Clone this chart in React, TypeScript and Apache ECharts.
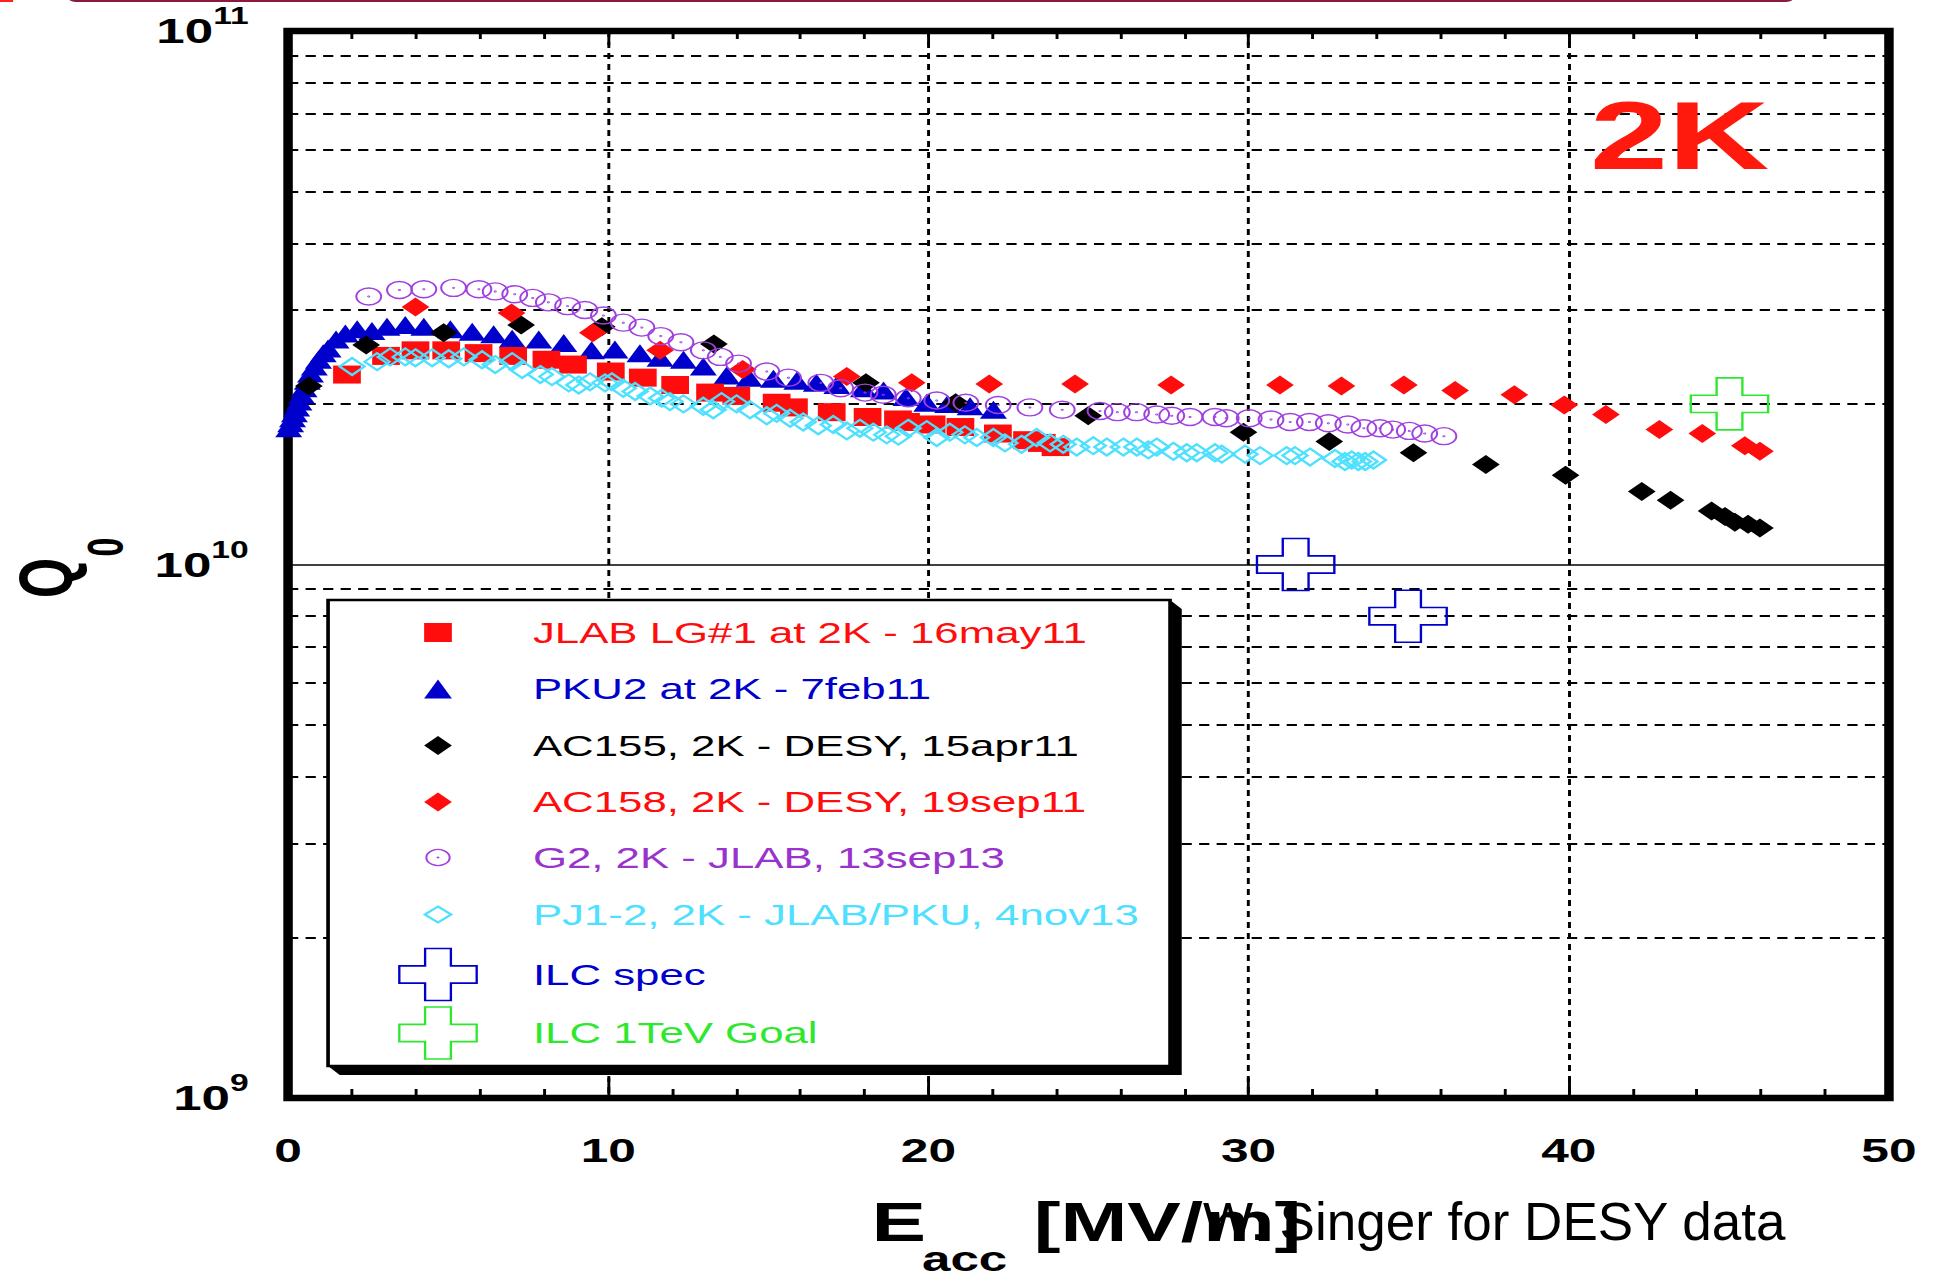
import React, { useEffect, useRef } from "react";
import * as echarts from "echarts";

// The reference picture is stretched horizontally; the chart is drawn narrower and stretched back.
const STRETCH = 1.46;
const CHART_W = 1329;
const CHART_H = 1279;
const FONT = '"Liberation Sans", Arial, Helvetica, sans-serif';

const X_MIN = 0;
const X_MAX = 50;
const X_STEP = 10;
const Q_MIN = 1e9;
const Q_MAX = 1e11;
const Q_MINOR_GRID = [2e9, 3e9, 4e9, 5e9, 6e9, 7e9, 8e9, 9e9, 2e10, 3e10, 4e10, 5e10, 6e10, 7e10, 8e10, 9e10];

const NAME_JLAB = "JLAB LG#1 at 2K - 16may11";
const NAME_PKU2 = "PKU2 at 2K - 7feb11";
const NAME_AC155 = "AC155, 2K - DESY, 15apr11";
const NAME_AC158 = "AC158, 2K - DESY, 19sep11";
const NAME_G2 = "G2, 2K - JLAB, 13sep13";
const NAME_PJ12 = "PJ1-2, 2K - JLAB/PKU, 4nov13";
const NAME_ILC = "ILC spec";
const NAME_ILC1T = "ILC 1TeV Goal";

// [Eacc (MV/m), Q0]
const jlab: number[][] = [
  [1.84, 2.27e10], [3.06, 2.46e10], [3.98, 2.52e10], [4.94, 2.52e10], [5.95, 2.49e10], [7.03, 2.46e10],
  [8.07, 2.42e10], [8.9, 2.37e10], [10.08, 2.3e10], [11.08, 2.24e10], [12.09, 2.17e10], [13.18, 2.1e10],
  [14.0, 2.07e10], [15.26, 2.01e10], [15.8, 1.97e10], [16.98, 1.93e10], [18.1, 1.89e10], [19.05, 1.87e10],
  [19.3, 1.85e10], [20.1, 1.83e10], [21.0, 1.81e10], [22.17, 1.76e10], [23.08, 1.71e10], [23.54, 1.69e10],
  [23.97, 1.66e10],
];

const pku2: number[][] = [
  [0.02, 1.8e10], [0.08, 1.84e10], [0.14, 1.88e10], [0.2, 1.92e10], [0.27, 1.97e10], [0.34, 2.02e10],
  [0.42, 2.08e10], [0.5, 2.14e10], [0.6, 2.21e10], [0.7, 2.28e10], [0.82, 2.35e10], [0.95, 2.42e10],
  [1.1, 2.49e10], [1.25, 2.54e10], [1.5, 2.64e10], [1.79, 2.71e10], [2.16, 2.76e10], [2.62, 2.74e10],
  [3.09, 2.79e10], [3.66, 2.81e10], [4.24, 2.79e10], [5.07, 2.76e10], [5.75, 2.73e10], [6.42, 2.7e10],
  [7.0, 2.65e10], [7.83, 2.64e10], [8.61, 2.6e10], [9.48, 2.52e10], [10.21, 2.53e10], [10.99, 2.49e10],
  [11.62, 2.44e10], [12.35, 2.42e10], [12.97, 2.35e10], [13.7, 2.26e10], [14.4, 2.24e10], [15.16, 2.23e10],
  [15.89, 2.21e10], [16.5, 2.19e10], [17.14, 2.17e10], [17.97, 2.14e10], [18.6, 2.12e10], [19.3, 2.06e10],
  [19.95, 2.01e10], [20.6, 2.0e10], [21.3, 1.98e10], [22.03, 1.95e10],
];

const ac155: number[][] = [
  [0.65, 2.16e10], [2.44, 2.58e10], [4.86, 2.72e10], [7.28, 2.81e10], [9.8, 2.79e10], [13.3, 2.59e10],
  [18.05, 2.19e10], [20.85, 2.01e10], [24.99, 1.9e10], [29.84, 1.77e10], [32.52, 1.7e10], [35.15, 1.62e10],
  [37.41, 1.54e10], [39.9, 1.47e10], [42.28, 1.37e10], [43.18, 1.32e10], [44.46, 1.26e10], [44.88, 1.23e10],
  [45.19, 1.2e10], [45.6, 1.19e10], [45.97, 1.17e10],
];

const ac158: number[][] = [
  [3.98, 3.04e10], [6.98, 2.96e10], [9.52, 2.72e10], [11.62, 2.52e10], [14.2, 2.32e10], [17.45, 2.25e10],
  [19.48, 2.19e10], [21.9, 2.18e10], [24.58, 2.18e10], [27.58, 2.17e10], [30.98, 2.17e10], [32.9, 2.16e10],
  [34.85, 2.17e10], [36.45, 2.12e10], [38.3, 2.08e10], [39.86, 1.99e10], [41.16, 1.91e10], [42.83, 1.79e10],
  [44.17, 1.76e10], [45.5, 1.67e10], [45.97, 1.63e10],
];

const g2: number[][] = [
  [2.52, 3.18e10], [3.48, 3.27e10], [4.24, 3.28e10], [5.17, 3.3e10], [5.96, 3.28e10], [6.47, 3.25e10],
  [7.08, 3.21e10], [7.64, 3.16e10], [8.13, 3.1e10], [8.73, 3.05e10], [9.27, 3.0e10], [9.85, 2.93e10],
  [10.47, 2.84e10], [11.05, 2.78e10], [11.64, 2.68e10], [12.27, 2.61e10], [12.97, 2.52e10], [13.5, 2.45e10],
  [14.07, 2.38e10], [14.95, 2.3e10], [15.63, 2.24e10], [16.64, 2.19e10], [17.26, 2.14e10], [18.02, 2.1e10],
  [18.59, 2.08e10], [19.37, 2.05e10], [20.26, 2.03e10], [21.17, 2.01e10], [22.18, 1.99e10], [23.17, 1.97e10],
  [24.18, 1.95e10], [25.36, 1.94e10], [25.9, 1.93e10], [26.5, 1.93e10], [27.13, 1.91e10], [27.6, 1.9e10],
  [28.17, 1.89e10], [28.95, 1.89e10], [29.3, 1.88e10], [30.02, 1.88e10], [30.7, 1.87e10], [31.3, 1.85e10],
  [31.9, 1.85e10], [32.49, 1.84e10], [33.1, 1.83e10], [33.6, 1.8e10], [34.1, 1.8e10], [34.5, 1.79e10],
  [35.02, 1.78e10], [35.5, 1.76e10], [36.1, 1.74e10],
];

const pj12: number[][] = [
  [2.0, 2.35e10], [2.78, 2.4e10], [3.19, 2.45e10], [3.66, 2.45e10], [3.98, 2.44e10], [4.5, 2.44e10],
  [5.02, 2.43e10], [5.49, 2.45e10], [6.06, 2.42e10], [6.47, 2.37e10], [7.0, 2.4e10], [7.31, 2.32e10],
  [7.88, 2.27e10], [8.24, 2.25e10], [8.77, 2.19e10], [9.08, 2.17e10], [9.43, 2.2e10], [9.9, 2.19e10],
  [10.11, 2.2e10], [10.47, 2.14e10], [10.84, 2.11e10], [11.31, 2.07e10], [11.67, 2.05e10], [11.93, 2.02e10],
  [12.35, 2.0e10], [12.97, 1.98e10], [13.28, 1.95e10], [13.54, 2.02e10], [14.01, 2.0e10], [14.43, 1.95e10],
  [14.95, 1.9e10], [15.26, 1.92e10], [15.68, 1.88e10], [16.09, 1.85e10], [16.56, 1.82e10], [17.03, 1.83e10],
  [17.45, 1.78e10], [17.86, 1.8e10], [18.28, 1.77e10], [18.7, 1.75e10], [19.06, 1.74e10], [19.37, 1.8e10],
  [19.95, 1.79e10], [20.26, 1.73e10], [20.67, 1.77e10], [21.14, 1.75e10], [21.51, 1.73e10], [22.03, 1.73e10],
  [22.39, 1.69e10], [22.91, 1.68e10], [23.38, 1.73e10], [23.8, 1.69e10], [24.21, 1.68e10], [24.63, 1.66e10],
  [25.15, 1.67e10], [25.57, 1.66e10], [26.09, 1.66e10], [26.51, 1.66e10], [26.87, 1.64e10], [27.13, 1.66e10],
  [27.65, 1.63e10], [28.07, 1.62e10], [28.38, 1.62e10], [28.95, 1.62e10], [29.16, 1.61e10], [29.89, 1.61e10],
  [30.36, 1.6e10], [31.19, 1.6e10], [31.45, 1.6e10], [31.92, 1.59e10], [32.7, 1.58e10], [33.01, 1.56e10],
  [33.22, 1.57e10], [33.43, 1.56e10], [33.64, 1.56e10], [33.9, 1.57e10],
];

const ilcSpec: number[][] = [[31.47, 1.0e10], [34.98, 8.0e9]];
const ilc1TeV: number[][] = [[45.02, 2.0e10]];

const RED = "#ff0d0d";
const BLUE = "#0000cc";
const BLACK = "#000000";
const PURPLE = "#a040e0";
const PURPLE_TEXT = "#9933cc";
const CYAN = "#4ee0ff";
const GREEN = "#2ee82e";

const SQUARE = "path://M0,0H10V10H0Z";
const TRIANGLE = "path://M5,0L10,10L0,10Z";
const DIAMOND = "path://M5,0L10,5L5,10L0,5Z";
const CIRCLE_DOT =
  "path://M0,10A10,10,0,1,0,20,10A10,10,0,1,0,0,10ZM9.6,10A0.4,0.4,0,1,0,10.4,10A0.4,0.4,0,1,0,9.6,10Z";
const CROSS = "path://M10,0H20V10H30V20H20V30H10V20H0V10H10Z";

// legend entries: name, text colour, icon kind
const LEGEND_ROWS: [string, string, string][] = [
  [NAME_JLAB, RED, "square"],
  [NAME_PKU2, BLUE, "triangle"],
  [NAME_AC155, BLACK, "diamond"],
  [NAME_AC158, RED, "diamond"],
  [NAME_G2, PURPLE_TEXT, "circle"],
  [NAME_PJ12, CYAN, "openDiamond"],
  [NAME_ILC, BLUE, "cross"],
  [NAME_ILC1T, GREEN, "cross"],
];
const LEGEND_ROW_Y = [632.5, 689, 745.5, 802, 857.5, 914.5, 974.5, 1033];
const LEGEND_ICON_X = 300;
const LEGEND_TEXT_X = 365;

function legendIcon(kind: string, color: string, cx: number, cy: number): any[] {
  const base = { silent: true, z: 11 };
  if (kind === "square") {
    return [{ ...base, type: "rect", shape: { x: cx - 9.5, y: cy - 9.5, width: 19, height: 19 }, style: { fill: color } }];
  }
  if (kind === "triangle") {
    return [{ ...base, type: "polygon", shape: { points: [[cx, cy - 9.5], [cx + 9.5, cy + 9.5], [cx - 9.5, cy + 9.5]] }, style: { fill: color } }];
  }
  if (kind === "diamond") {
    return [{ ...base, type: "polygon", shape: { points: [[cx, cy - 9.5], [cx + 9.5, cy], [cx, cy + 9.5], [cx - 9.5, cy]] }, style: { fill: color } }];
  }
  if (kind === "openDiamond") {
    return [{ ...base, type: "polygon", shape: { points: [[cx, cy - 8], [cx + 9, cy], [cx, cy + 8], [cx - 9, cy]] }, style: { fill: "none", stroke: CYAN, lineWidth: 2 } }];
  }
  if (kind === "circle") {
    return [
      { ...base, type: "circle", shape: { cx, cy, r: 8 }, style: { fill: "none", stroke: PURPLE, lineWidth: 1.4 } },
      { ...base, type: "circle", shape: { cx, cy, r: 1 }, style: { fill: PURPLE } },
    ];
  }
  const a = 26.5;
  const b = 26;
  const pts = [
    [cx - a / 3, cy - b], [cx + a / 3, cy - b], [cx + a / 3, cy - b / 3], [cx + a, cy - b / 3],
    [cx + a, cy + b / 3], [cx + a / 3, cy + b / 3], [cx + a / 3, cy + b], [cx - a / 3, cy + b],
    [cx - a / 3, cy + b / 3], [cx - a, cy + b / 3], [cx - a, cy - b / 3], [cx - a / 3, cy - b / 3],
  ];
  return [{ ...base, type: "polygon", shape: { points: pts }, style: { fill: "none", stroke: color, lineWidth: 1.6 } }];
}

function buildLegendGraphics(): any[] {
  const out: any[] = [];
  LEGEND_ROWS.forEach(([name, color, kind], i) => {
    const cy = LEGEND_ROW_Y[i];
    out.push(...legendIcon(kind, color, LEGEND_ICON_X, cy));
    out.push({
      type: "text",
      silent: true,
      z: 11,
      x: LEGEND_TEXT_X,
      y: cy,
      style: { text: name, fontSize: 30, fontFamily: FONT, fill: color, textAlign: "left", textVerticalAlign: "middle" },
    });
  });
  return out;
}

function buildOption() {
  const common = { type: "scatter", silent: true, emphasis: { disabled: true }, z: 3 };
  const box = { x0: 224.7, y0: 600, x1: 801.4, y1: 1066, dx: 8, dy: 9 };
  return {
    animation: false,
    backgroundColor: "#ffffff",
    textStyle: { fontFamily: FONT },
    grid: {
      left: 197.3,
      right: 35.2,
      top: 31,
      bottom: 181,
      show: true,
      borderColor: "#000",
      borderWidth: 6.5,
      backgroundColor: "rgba(0,0,0,0)",
      containLabel: false,
      outerBoundsMode: "none",
    },
    xAxis: [
      {
        type: "value",
        min: X_MIN,
        max: X_MAX,
        interval: X_STEP,
        position: "bottom",
        axisLine: { show: false },
        axisTick: { show: true, inside: true, length: 20, lineStyle: { color: "#000", width: 2 } },
        minorTick: { show: true, splitNumber: 5, length: 9, lineStyle: { color: "#000", width: 2 } },
        axisLabel: { margin: 35, fontSize: 34, fontWeight: "bold", color: "#000", fontFamily: FONT },
        splitLine: { show: true, lineStyle: { color: "#000", width: 2, type: [6, 5] } },
      },
      {
        type: "value",
        min: X_MIN,
        max: X_MAX,
        interval: X_STEP,
        position: "top",
        axisLine: { show: false },
        axisTick: { show: true, inside: true, length: 14, lineStyle: { color: "#000", width: 2 } },
        minorTick: { show: true, splitNumber: 5, length: 8, lineStyle: { color: "#000", width: 2 } },
        axisLabel: { show: false },
        splitLine: { show: false },
      },
    ],
    yAxis: [
      {
        type: "log",
        logBase: 10,
        min: Q_MIN,
        max: Q_MAX,
        axisLine: { show: false },
        axisTick: { show: false },
        splitLine: { show: true, lineStyle: { color: "#000", width: 1.5, type: "solid" } },
        axisLabel: {
          margin: 27,
          formatter: (v: number) => "{b|10}{s|" + Math.round(Math.log10(v)) + "}",
          rich: {
            b: { fontSize: 35, fontWeight: "bold", fontFamily: FONT, color: "#000", lineHeight: 38 },
            s: {
              fontSize: 23,
              fontWeight: "bold",
              fontFamily: FONT,
              color: "#000",
              lineHeight: 23,
              padding: [0, 0, 29, 0],
            },
          },
        },
      },
    ],
    series: [
      {
        ...common,
        name: NAME_PKU2,
        data: pku2,
        symbol: TRIANGLE,
        symbolSize: [18.5, 18],
        itemStyle: { color: BLUE, opacity: 1 },
        markLine: {
          silent: true,
          z: 1,
          symbol: ["none", "none"],
          label: { show: false },
          emphasis: { disabled: true },
          lineStyle: { color: "#000", width: 1.8, type: [7, 5] },
          data: Q_MINOR_GRID.map((v) => ({ yAxis: v })),
        },
      },
      { ...common, name: NAME_JLAB, data: jlab, symbol: SQUARE, symbolSize: [19, 18], itemStyle: { color: RED, opacity: 1 } },
      { ...common, name: NAME_AC155, data: ac155, symbol: DIAMOND, symbolSize: [19, 19], itemStyle: { color: BLACK, opacity: 1 } },
      { ...common, name: NAME_AC158, data: ac158, symbol: DIAMOND, symbolSize: [19, 19], itemStyle: { color: RED, opacity: 1 } },
      {
        ...common,
        name: NAME_G2,
        data: g2,
        symbol: CIRCLE_DOT,
        symbolSize: [17, 17],
        itemStyle: { color: "transparent", borderColor: PURPLE, borderWidth: 1.4, opacity: 1 },
      },
      {
        ...common,
        name: NAME_PJ12,
        data: pj12,
        symbol: DIAMOND,
        symbolSize: [17, 17],
        itemStyle: { color: "transparent", borderColor: CYAN, borderWidth: 2, opacity: 1 },
      },
      {
        ...common,
        name: NAME_ILC,
        data: ilcSpec,
        symbol: CROSS,
        symbolSize: [53, 52],
        itemStyle: { color: "transparent", borderColor: BLUE, borderWidth: 1.6, opacity: 1 },
      },
      {
        ...common,
        name: NAME_ILC1T,
        data: ilc1TeV,
        symbol: CROSS,
        symbolSize: [53, 52],
        itemStyle: { color: "transparent", borderColor: GREEN, borderWidth: 1.6, opacity: 1 },
      },
    ],
    graphic: [
      { type: "rect", silent: true, z: 20, shape: { x: 46.6, y: -8, width: 1182, height: 10, r: 6 }, style: { fill: "#8c1a3c" } },
      { type: "rect", silent: true, z: 20, shape: { x: 0, y: 0, width: 9, height: 2 }, style: { fill: "#ff2020" } },
      {
        type: "polygon",
        silent: true,
        z: 9,
        shape: {
          points: [
            [box.x0, box.y1],
            [box.x0 + box.dx, box.y1 + box.dy],
            [box.x1 + box.dx, box.y1 + box.dy],
            [box.x1 + box.dx, box.y0 + box.dy],
            [box.x1, box.y0],
          ],
        },
        style: { fill: "#000" },
      },
      {
        type: "rect",
        silent: true,
        z: 10,
        shape: { x: box.x0, y: box.y0, width: box.x1 - box.x0, height: box.y1 - box.y0 },
        style: { fill: "#fff", stroke: "#000", lineWidth: 2.5 },
      },
      ...buildLegendGraphics(),
      {
        type: "text",
        silent: true,
        z: 20,
        x: 1089,
        y: 135,
        style: { text: "2K", fontSize: 96, fontWeight: "bold", fontFamily: FONT, fill: "#ff1a0d", textAlign: "left", textVerticalAlign: "middle" },
      },
      {
        type: "text",
        silent: true,
        z: 20,
        x: 31.5,
        y: 578,
        rotation: Math.PI / 2,
        style: { text: "Q", fontSize: 52, fontWeight: "bold", fontFamily: FONT, fill: "#000", textAlign: "center", textVerticalAlign: "middle" },
      },
      {
        type: "text",
        silent: true,
        z: 20,
        x: 72,
        y: 547,
        rotation: Math.PI / 2,
        style: { text: "0", fontSize: 34, fontWeight: "bold", fontFamily: FONT, fill: "#000", textAlign: "center", textVerticalAlign: "middle" },
      },
      {
        type: "text",
        silent: true,
        z: 20,
        x: 597,
        y: 1222,
        style: { text: "E", fontSize: 56, fontWeight: "bold", fontFamily: FONT, fill: "#000", textAlign: "left", textVerticalAlign: "middle" },
      },
      {
        type: "text",
        silent: true,
        z: 20,
        x: 631.5,
        y: 1259,
        style: { text: "acc", fontSize: 35, fontWeight: "bold", fontFamily: FONT, fill: "#000", textAlign: "left", textVerticalAlign: "middle" },
      },
      {
        type: "text",
        silent: true,
        z: 20,
        x: 708,
        y: 1222,
        style: { text: "[MV/m]", fontSize: 55, fontWeight: "bold", fontFamily: FONT, fill: "#000", textAlign: "left", textVerticalAlign: "middle" },
      },
      {
        type: "text",
        silent: true,
        z: 21,
        x: 824,
        y: 1222,
        scaleX: 1 / STRETCH,
        style: { text: "W. Singer for DESY data", fontSize: 53, fontFamily: FONT, fill: "#000", textAlign: "left", textVerticalAlign: "middle" },
      },
    ],
  };
}

function Chart() {
  const ref = useRef<HTMLDivElement>(null);
  useEffect(() => {
    if (!ref.current) return;
    const chart = echarts.init(ref.current, null, { renderer: "svg" });
    chart.setOption(buildOption() as any);
    return () => chart.dispose();
  }, []);
  return (
    <div
      ref={ref}
      style={{ width: CHART_W, height: CHART_H, transform: `scaleX(${STRETCH})`, transformOrigin: "0 0" }}
    />
  );
}

export default function App() {
  return (
    <div style={{ position: "absolute", left: 0, top: 0, width: 1940, height: 1279, overflow: "hidden", background: "#fff" }}>
      <Chart />
    </div>
  );
}
